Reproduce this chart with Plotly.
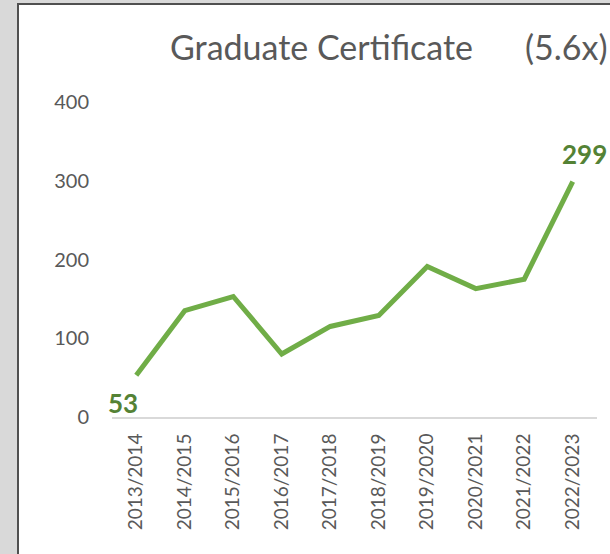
import plotly.graph_objects as go

categories = ["2013/2014", "2014/2015", "2015/2016", "2016/2017", "2017/2018",
              "2018/2019", "2019/2020", "2020/2021", "2021/2022", "2022/2023"]
values = [53, 135, 153, 80, 115, 129, 191, 163, 175, 299]
y_ticks = [0, 100, 200, 300, 400]
title_main = "Graduate Certificate"
title_ratio = "(5.6x)"

W, H = 610, 554
ML, MR, MT, MB = 112, 13, 102, 137
PW = W - ML - MR
PH = H - MT - MB

def px_x(px):
    return (px - ML) / PW

def px_y(py):
    return (H - MB - py) / PH

FONT = "Lato"
GRAY = "#595959"
GREEN = "#70ad47"
DGREEN = "#548235"

fig = go.Figure()
fig.add_trace(go.Scatter(
    x=categories, y=values, mode="lines",
    line=dict(color=GREEN, width=5),
    hoverinfo="skip", showlegend=False,
))

fig.update_layout(
    width=W, height=H,
    margin=dict(l=ML, r=MR, t=MT, b=MB, pad=0),
    paper_bgcolor="#d9d9d9",
    plot_bgcolor="white",
    font=dict(family=FONT, color=GRAY),
    xaxis=dict(
        type="category", range=[-0.5, len(categories) - 0.5],
        showgrid=False, zeroline=False,
        showline=True, linecolor="#d9d9d9", linewidth=2,
        tickangle=-90, tickfont=dict(family="Liberation Sans Narrow, Lato", size=19, color=GRAY),
        ticks="", ticklabelstandoff=7,
    ),
    yaxis=dict(
        range=[0, 400], tickvals=y_ticks,
        showgrid=False, zeroline=False, showline=False,
        tickfont=dict(family=FONT, size=20, color=GRAY),
        ticks="", ticklabelstandoff=22,
    ),
    shapes=[dict(
        type="rect", xref="paper", yref="paper", layer="below",
        x0=px_x(18), x1=2, y0=-1, y1=px_y(4),
        fillcolor="white", line=dict(color="#505050", width=2),
    )],
)

fig.add_annotation(
    xref="paper", yref="paper", x=px_x(168), y=px_y(47),
    xanchor="left", yanchor="middle", showarrow=False,
    text=title_main, font=dict(family=FONT, size=34, color=GRAY),
)
fig.add_annotation(
    xref="paper", yref="paper", x=px_x(523), y=px_y(47),
    xanchor="left", yanchor="middle", showarrow=False,
    text=title_ratio, font=dict(family=FONT, size=34, color=GRAY),
)

fig.add_annotation(
    x=categories[0], y=values[0], text=f"<b>{values[0]}</b>",
    showarrow=False, xshift=-13, yshift=-28,
    font=dict(family=FONT, size=26, color=DGREEN),
)
fig.add_annotation(
    x=categories[-1], y=values[-1], text=f"<b>{values[-1]}</b>",
    showarrow=False, xshift=12, yshift=28,
    font=dict(family=FONT, size=26, color=DGREEN),
)

fig.write_html(
    "out.html",
    config={"displayModeBar": False},
    post_script="document.body.style.margin='0';document.body.style.overflow='hidden';",
)
